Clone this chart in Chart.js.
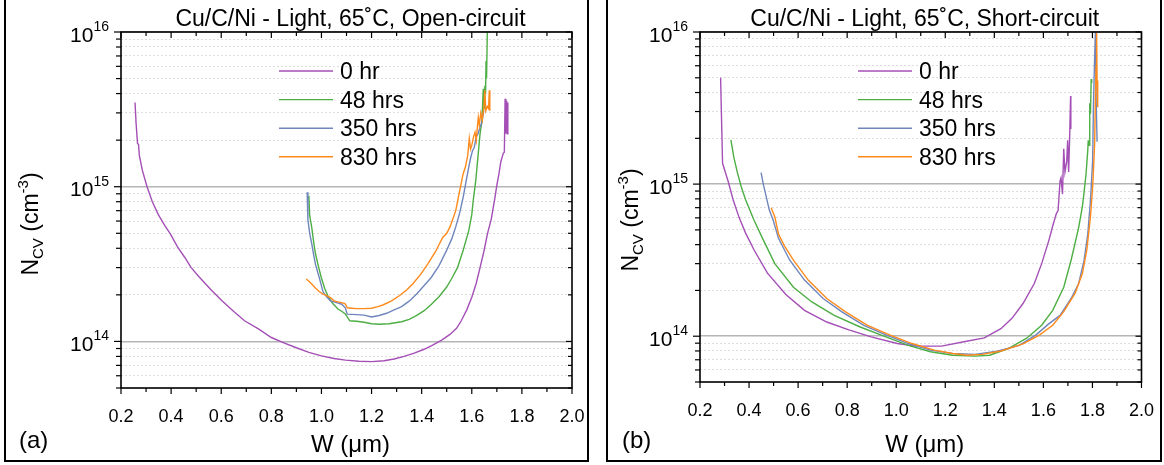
<!DOCTYPE html>
<html>
<head>
<meta charset="utf-8">
<script src="https://cdn.jsdelivr.net/npm/chart.js@4.4.1/dist/chart.umd.min.js"></script>
<style>
  body { margin: 0; background: #fff; width: 1164px; height: 465px; overflow: hidden; position: relative; }
  canvas { position: absolute; top: 0; }
  .frame { position: absolute; top: -5px; height: 467px; border: 2px solid #000; box-sizing: border-box; }
</style>
</head>
<body>
<div class="frame" style="left:4px;width:585px"></div>
<div class="frame" style="left:606px;width:556px"></div>
<canvas id="chartA" width="600" height="465" style="left:0"></canvas>
<canvas id="chartB" width="564" height="465" style="left:600px"></canvas>
<script>
// depletion width W (um) and C-V doping density N (cm^-3)
const seriesNames = ["0 hr", "48 hrs", "350 hrs", "830 hrs"];
const seriesColors = ["#a44fb6", "#4cae43", "#6f86bd", "#ff8a1c"];

// x axis tick labels
const wTicks = [0.2, 0.4, 0.6, 0.8, 1.0, 1.2, 1.4, 1.6, 1.8, 2.0];
const wTickLabels = ["0.2", "0.4", "0.6", "0.8", "1.0", "1.2", "1.4", "1.6", "1.8", "2.0"];
const wMinorTicks = [0.3, 0.5, 0.7, 0.9, 1.1, 1.3, 1.5, 1.7, 1.9];
// y axis decades and the minor steps between them
const nDecades = [1e14, 1e15, 1e16];
const nDecadeExps = ["14", "15", "16"];
const nMinorSteps = [2, 3, 4, 5, 6, 7, 8, 9];

// ---- open-circuit ----
const openW0 = [0.256, 0.260, 0.266, 0.270, 0.273, 0.285, 0.304, 0.325, 0.349, 0.375, 0.397, 0.425, 0.454, 0.48, 0.513, 0.56, 0.603, 0.65, 0.693, 0.75, 0.80, 0.85, 0.90, 0.95, 1.0, 1.05, 1.096, 1.15, 1.2, 1.25, 1.29, 1.33, 1.37, 1.41, 1.44, 1.48, 1.513, 1.54, 1.558, 1.58, 1.60, 1.617, 1.633, 1.648, 1.663, 1.678, 1.692, 1.70, 1.708, 1.716, 1.726, 1.730, 1.733, 1.736, 1.739, 1.742, 1.744];
const openN0 = [3.5e15, 2.6e15, 1.9e15, 1.88e15, 1.6e15, 1.28e15, 1.0e15, 8.0e14, 6.6e14, 5.6e14, 4.95e14, 4.1e14, 3.5e14, 3.0e14, 2.6e14, 2.15e14, 1.83e14, 1.56e14, 1.36e14, 1.2e14, 1.06e14, 9.8e13, 9.1e13, 8.5e13, 8.07e13, 7.75e13, 7.57e13, 7.45e13, 7.4e13, 7.5e13, 7.7e13, 8.0e13, 8.4e13, 8.9e13, 9.4e13, 1.02e14, 1.11e14, 1.22e14, 1.36e14, 1.6e14, 1.93e14, 2.35e14, 3.0e14, 3.8e14, 5.0e14, 6.2e14, 8.4e14, 1.02e15, 1.2e15, 1.45e15, 1.65e15, 1.67e15, 3.7e15, 2.2e15, 3.6e15, 2.2e15, 3.5e15];
const openW48 = [0.946, 0.950, 0.953, 0.961, 0.968, 0.976, 0.987, 0.999, 1.013, 1.028, 1.045, 1.066, 1.085, 1.096, 1.113, 1.14, 1.17, 1.2, 1.23, 1.27, 1.32, 1.35, 1.379, 1.41, 1.439, 1.47, 1.499, 1.52, 1.543, 1.566, 1.588, 1.60, 1.606, 1.616, 1.626, 1.633, 1.640, 1.646, 1.650, 1.652, 1.655, 1.657, 1.659, 1.662];
const openN48 = [8.5e14, 8.6e14, 6.5e14, 5.5e14, 4.5e14, 3.7e14, 3.1e14, 2.6e14, 2.2e14, 1.93e14, 1.76e14, 1.62e14, 1.55e14, 1.5e14, 1.36e14, 1.35e14, 1.33e14, 1.3e14, 1.29e14, 1.3e14, 1.34e14, 1.39e14, 1.47e14, 1.58e14, 1.74e14, 1.95e14, 2.24e14, 2.55e14, 3.0e14, 3.9e14, 5.2e14, 6.6e14, 8.2e14, 1.1e15, 1.65e15, 2.2e15, 2.6e15, 4.3e15, 3.2e15, 4.5e15, 4.0e15, 6.5e15, 5.0e15, 1.0e16];
const openW350 = [0.943, 0.946, 0.953, 0.961, 0.968, 0.976, 0.985, 0.991, 1.006, 1.02, 1.036, 1.06, 1.081, 1.095, 1.103, 1.14, 1.17, 1.2, 1.23, 1.26, 1.29, 1.32, 1.35, 1.379, 1.41, 1.439, 1.47, 1.499, 1.52, 1.536, 1.552, 1.566, 1.578, 1.588, 1.596, 1.603, 1.61, 1.618, 1.625, 1.633, 1.64, 1.648];
const openN350 = [9.2e14, 6.1e14, 5.0e14, 4.3e14, 3.7e14, 3.16e14, 2.8e14, 2.6e14, 2.1e14, 1.95e14, 1.83e14, 1.78e14, 1.74e14, 1.65e14, 1.5e14, 1.49e14, 1.48e14, 1.44e14, 1.47e14, 1.52e14, 1.6e14, 1.68e14, 1.82e14, 2.02e14, 2.3e14, 2.6e14, 3.1e14, 3.86e14, 4.6e14, 5.5e14, 6.8e14, 8.6e14, 1.1e15, 1.34e15, 1.55e15, 1.71e15, 1.8e15, 2.1e15, 2.2e15, 2.43e15, 2.6e15, 3.1e15];
const openW830 = [0.939, 0.95, 0.961, 0.975, 0.991, 1.006, 1.021, 1.036, 1.051, 1.066, 1.081, 1.095, 1.103, 1.12, 1.14, 1.17, 1.2, 1.225, 1.245, 1.28, 1.312, 1.34, 1.364, 1.395, 1.424, 1.455, 1.484, 1.50, 1.513, 1.536, 1.545, 1.555, 1.565, 1.575, 1.584, 1.59, 1.595, 1.60, 1.607, 1.613, 1.618, 1.622, 1.626, 1.63, 1.636, 1.642, 1.648, 1.652, 1.656, 1.662, 1.667, 1.67, 1.672];
const openN830 = [2.53e14, 2.45e14, 2.35e14, 2.22e14, 2.1e14, 2.02e14, 1.98e14, 1.92e14, 1.83e14, 1.8e14, 1.78e14, 1.75e14, 1.65e14, 1.64e14, 1.63e14, 1.63e14, 1.64e14, 1.68e14, 1.72e14, 1.83e14, 1.98e14, 2.15e14, 2.35e14, 2.7e14, 3.16e14, 3.8e14, 4.7e14, 5.0e14, 5.5e14, 7.0e14, 8.3e14, 1.0e15, 1.2e15, 1.35e15, 1.6e15, 2.05e15, 1.75e15, 1.85e15, 2.1e15, 2.25e15, 2.0e15, 2.4e15, 2.8e15, 2.5e15, 3.0e15, 2.7e15, 3.2e15, 4.2e15, 3.1e15, 3.3e15, 3.2e15, 4.2e15, 3.1e15];

// ---- short-circuit ----
const shortW0 = [0.284, 0.288, 0.292, 0.303, 0.315, 0.335, 0.36, 0.385, 0.42, 0.475, 0.55, 0.626, 0.717, 0.807, 0.898, 1.004, 1.079, 1.185, 1.276, 1.359, 1.427, 1.472, 1.517, 1.563, 1.593, 1.623, 1.638, 1.653, 1.660, 1.668, 1.672, 1.678, 1.683, 1.688, 1.695, 1.699, 1.703, 1.707, 1.711, 1.712];
const shortN0 = [5.0e15, 2.6e15, 1.37e15, 1.2e15, 1.04e15, 7.9e14, 6.0e14, 4.8e14, 3.7e14, 2.6e14, 1.88e14, 1.48e14, 1.24e14, 1.1e14, 9.9e13, 8.96e13, 8.6e13, 8.6e13, 9.2e13, 9.75e13, 1.12e14, 1.31e14, 1.64e14, 2.22e14, 3.0e14, 4.3e14, 5.3e14, 6.4e14, 6.7e14, 1.05e15, 1.1e15, 8.6e14, 1.71e15, 1.2e15, 1.4e15, 1.94e15, 1.2e15, 2.0e15, 3.8e15, 2.3e15];
const shortW48 = [0.326, 0.338, 0.352, 0.368, 0.386, 0.42, 0.455, 0.505, 0.581, 0.656, 0.747, 0.853, 0.958, 1.049, 1.14, 1.23, 1.321, 1.381, 1.457, 1.532, 1.593, 1.638, 1.683, 1.713, 1.744, 1.759, 1.766, 1.774, 1.781, 1.783, 1.786, 1.789, 1.792, 1.795, 1.797];
const shortN48 = [1.95e15, 1.5e15, 1.2e15, 9.6e14, 7.9e14, 5.8e14, 4.4e14, 3.0e14, 2.1e14, 1.68e14, 1.37e14, 1.15e14, 9.9e13, 8.7e13, 7.9e13, 7.5e13, 7.4e13, 7.5e13, 8.3e13, 9.7e13, 1.18e14, 1.48e14, 2.1e14, 3.16e14, 5.2e14, 7.1e14, 8.9e14, 1.17e15, 1.67e15, 1.94e15, 1.8e15, 3.4e15, 2.9e15, 4.9e15, 4.6e15];
const shortW350 = [0.449, 0.458, 0.467, 0.482, 0.498, 0.52, 0.566, 0.626, 0.702, 0.777, 0.868, 0.958, 1.049, 1.14, 1.23, 1.321, 1.411, 1.502, 1.57, 1.623, 1.668, 1.713, 1.744, 1.766, 1.781, 1.792, 1.801, 1.804, 1.808, 1.812, 1.815, 1.819];
const shortN350 = [1.19e15, 1.0e15, 8.7e14, 6.8e14, 5.8e14, 4.4e14, 3.16e14, 2.34e14, 1.77e14, 1.45e14, 1.18e14, 1.02e14, 8.95e13, 8.1e13, 7.7e13, 7.6e13, 7.96e13, 8.7e13, 1.02e14, 1.21e14, 1.37e14, 1.77e14, 2.22e14, 3.16e14, 4.7e14, 7.8e14, 1.44e15, 3.2e15, 6.0e15, 1.0e16, 3.6e15, 1.9e15];
const shortW830 = [0.49, 0.505, 0.52, 0.543, 0.581, 0.641, 0.717, 0.792, 0.883, 0.973, 1.064, 1.155, 1.23, 1.29, 1.35, 1.427, 1.517, 1.585, 1.638, 1.683, 1.729, 1.759, 1.777, 1.792, 1.801, 1.809, 1.812, 1.815, 1.817, 1.819, 1.821, 1.822];
const shortN830 = [7.0e14, 6.1e14, 4.7e14, 3.96e14, 3.16e14, 2.34e14, 1.77e14, 1.45e14, 1.18e14, 1.02e14, 8.95e13, 8.1e13, 7.7e13, 7.5e13, 7.6e13, 8.0e13, 8.9e13, 1.02e14, 1.18e14, 1.45e14, 1.91e14, 2.58e14, 3.68e14, 6.1e14, 9.6e14, 1.85e15, 3.6e15, 6.0e15, 1.0e16, 4.8e15, 3.2e15, 4.8e15];

const FONT = "'Liberation Sans', Arial, sans-serif";

function pairs(w, n) {
  return w.map((v, i) => ({ x: v, y: n[i] }));
}

function makeDatasets(ws, ns) {
  return ws.map((w, i) => ({
    label: seriesNames[i],
    data: pairs(w, ns[i]),
    borderColor: seriesColors[i],
    borderWidth: 1.4,
    pointRadius: 0,
    tension: 0,
    fill: false,
    order: ws.length - i
  }));
}

// draws a run of text pieces (sub/superscripts) starting at x, baseline y
function drawRun(ctx, parts, x, y) {
  parts.forEach(p => {
    ctx.font = p.size + "px " + FONT;
    ctx.fillText(p.text, x, y + (p.dy || 0));
    x += ctx.measureText(p.text).width;
  });
}
function runWidth(ctx, parts) {
  return parts.reduce((s, p) => {
    ctx.font = p.size + "px " + FONT;
    return s + ctx.measureText(p.text).width;
  }, 0);
}

const isDecade = v => nDecades.some(d => Math.abs(v / d - 1) < 1e-6);

// frame, ticks, y labels, titles and legend
const decor = {
  id: "decor",
  afterDraw(chart, args, o) {
    const { ctx, chartArea: a, scales } = chart;
    const x = scales.x, y = scales.y;
    ctx.save();
    ctx.strokeStyle = "#000";
    ctx.fillStyle = "#000";
    ctx.lineWidth = 1.2;
    const seg = (x1, y1, x2, y2) => { ctx.beginPath(); ctx.moveTo(x1, y1); ctx.lineTo(x2, y2); ctx.stroke(); };

    wTicks.forEach(v => {
      const px = x.getPixelForValue(v);
      seg(px, a.bottom, px, a.bottom + 6);
      seg(px, a.top, px, a.top + 6);
    });
    wMinorTicks.forEach(v => {
      const px = x.getPixelForValue(v);
      seg(px, a.bottom, px, a.bottom + 4);
      seg(px, a.top, px, a.top + 4);
    });
    y.ticks.forEach(t => {
      const py = y.getPixelForValue(t.value);
      const len = isDecade(t.value) ? 7 : 5;
      seg(a.left - len, py, a.left, py);
      seg(a.right - len + 1, py, a.right, py);
    });

    ctx.lineWidth = 1.6;
    ctx.strokeRect(a.left, a.top, a.right - a.left, a.bottom - a.top);

    // decade labels 10^n
    ctx.textAlign = "left";
    ctx.textBaseline = "alphabetic";
    nDecades.forEach((v, i) => {
      const py = y.getPixelForValue(v);
      const parts = [{ text: "10", size: 21, dy: 9.5 }, { text: nDecadeExps[i], size: 14, dy: -1 }];
      drawRun(ctx, parts, a.left - 12 - runWidth(ctx, parts), py);
    });

    const cx = (a.left + a.right) / 2 + 4;
    ctx.font = "23px " + FONT;
    ctx.textAlign = "center";
    ctx.fillText(o.title, cx, 26);
    ctx.font = "24px " + FONT;
    ctx.fillText("W (\u03bcm)", cx, 452);
    ctx.textAlign = "left";
    ctx.fillText(o.tag, o.tagX, 448);

    // rotated y title
    ctx.save();
    ctx.translate(o.yTitleX, o.yTitleY);
    ctx.rotate(-Math.PI / 2);
    const yParts = [
      { text: "N", size: 23 }, { text: "CV", size: 15, dy: 5 },
      { text: " (cm", size: 23 }, { text: "-3", size: 15, dy: -10 }, { text: ")", size: 23 }
    ];
    drawRun(ctx, yParts, -runWidth(ctx, yParts) / 2, 0);
    ctx.restore();

    // legend
    ctx.font = "23px " + FONT;
    ctx.lineWidth = 1.4;
    seriesNames.forEach((name, i) => {
      const ly = a.top + 39 + i * 28.6;
      ctx.strokeStyle = seriesColors[i];
      seg(a.left + 158, ly, a.left + 212, ly);
      ctx.fillText(name, a.left + 219, ly + 8);
    });
    ctx.restore();
  }
};

function makeChart(id, datasets, plotBox, deco) {
  const canvas = document.getElementById(id);
  return new Chart(canvas, {
    type: "line",
    data: { datasets: datasets },
    options: {
      responsive: false,
      animation: false,
      layout: { padding: { left: 0, top: plotBox.top, right: canvas.width - plotBox.right, bottom: 0 } },
      plugins: { legend: { display: false }, tooltip: { enabled: false }, decor: deco },
      scales: {
        x: {
          type: "linear", min: 0.2, max: 2.0,
          afterBuildTicks: s => { s.ticks = wTicks.map(v => ({ value: v })); },
          afterFit: s => { s.height = canvas.height - plotBox.bottom; },
          grid: { display: false },
          border: { display: false },
          ticks: {
            autoSkip: false, maxRotation: 0, padding: 10, color: "#000",
            font: { family: FONT, size: 18 },
            callback: (v, i) => wTickLabels[i]
          }
        },
        y: {
          type: "logarithmic", min: 5e13, max: 1e16,
          afterBuildTicks: s => {
            const vals = [];
            [1e13, 1e14, 1e15].forEach(d => nMinorSteps.forEach(m => vals.push(m * d)));
            nDecades.forEach(d => vals.push(d));
            s.ticks = vals.filter(v => v >= 5e13 && v <= 1e16).sort((p, q) => p - q).map(v => ({ value: v }));
          },
          afterFit: s => { s.width = plotBox.left; },
          ticks: { display: false },
          grid: {
            drawTicks: false,
            color: c => (c.tick && isDecade(c.tick.value)) ? "#b5b5b5" : "#dddddd",
            lineWidth: c => (c.tick && isDecade(c.tick.value)) ? 1.5 : 1
          },
          border: {
            display: false,
            dash: c => (c.type === "tick" && c.tick && !isDecade(c.tick.value)) ? [2, 2] : []
          }
        }
      }
    },
    plugins: [decor]
  });
}

makeChart("chartA",
  makeDatasets([openW0, openW48, openW350, openW830], [openN0, openN48, openN350, openN830]),
  { left: 121, right: 572, top: 32, bottom: 388 },
  { title: "Cu/C/Ni - Light, 65\u02daC, Open-circuit", tag: "(a)", tagX: 19, yTitleX: 38, yTitleY: 224 });

makeChart("chartB",
  makeDatasets([shortW0, shortW48, shortW350, shortW830], [shortN0, shortN48, shortN350, shortN830]),
  { left: 100, right: 543, top: 32, bottom: 382 },
  { title: "Cu/C/Ni - Light, 65\u02daC, Short-circuit", tag: "(b)", tagX: 22, yTitleX: 38, yTitleY: 220 });
</script>
</body>
</html>
